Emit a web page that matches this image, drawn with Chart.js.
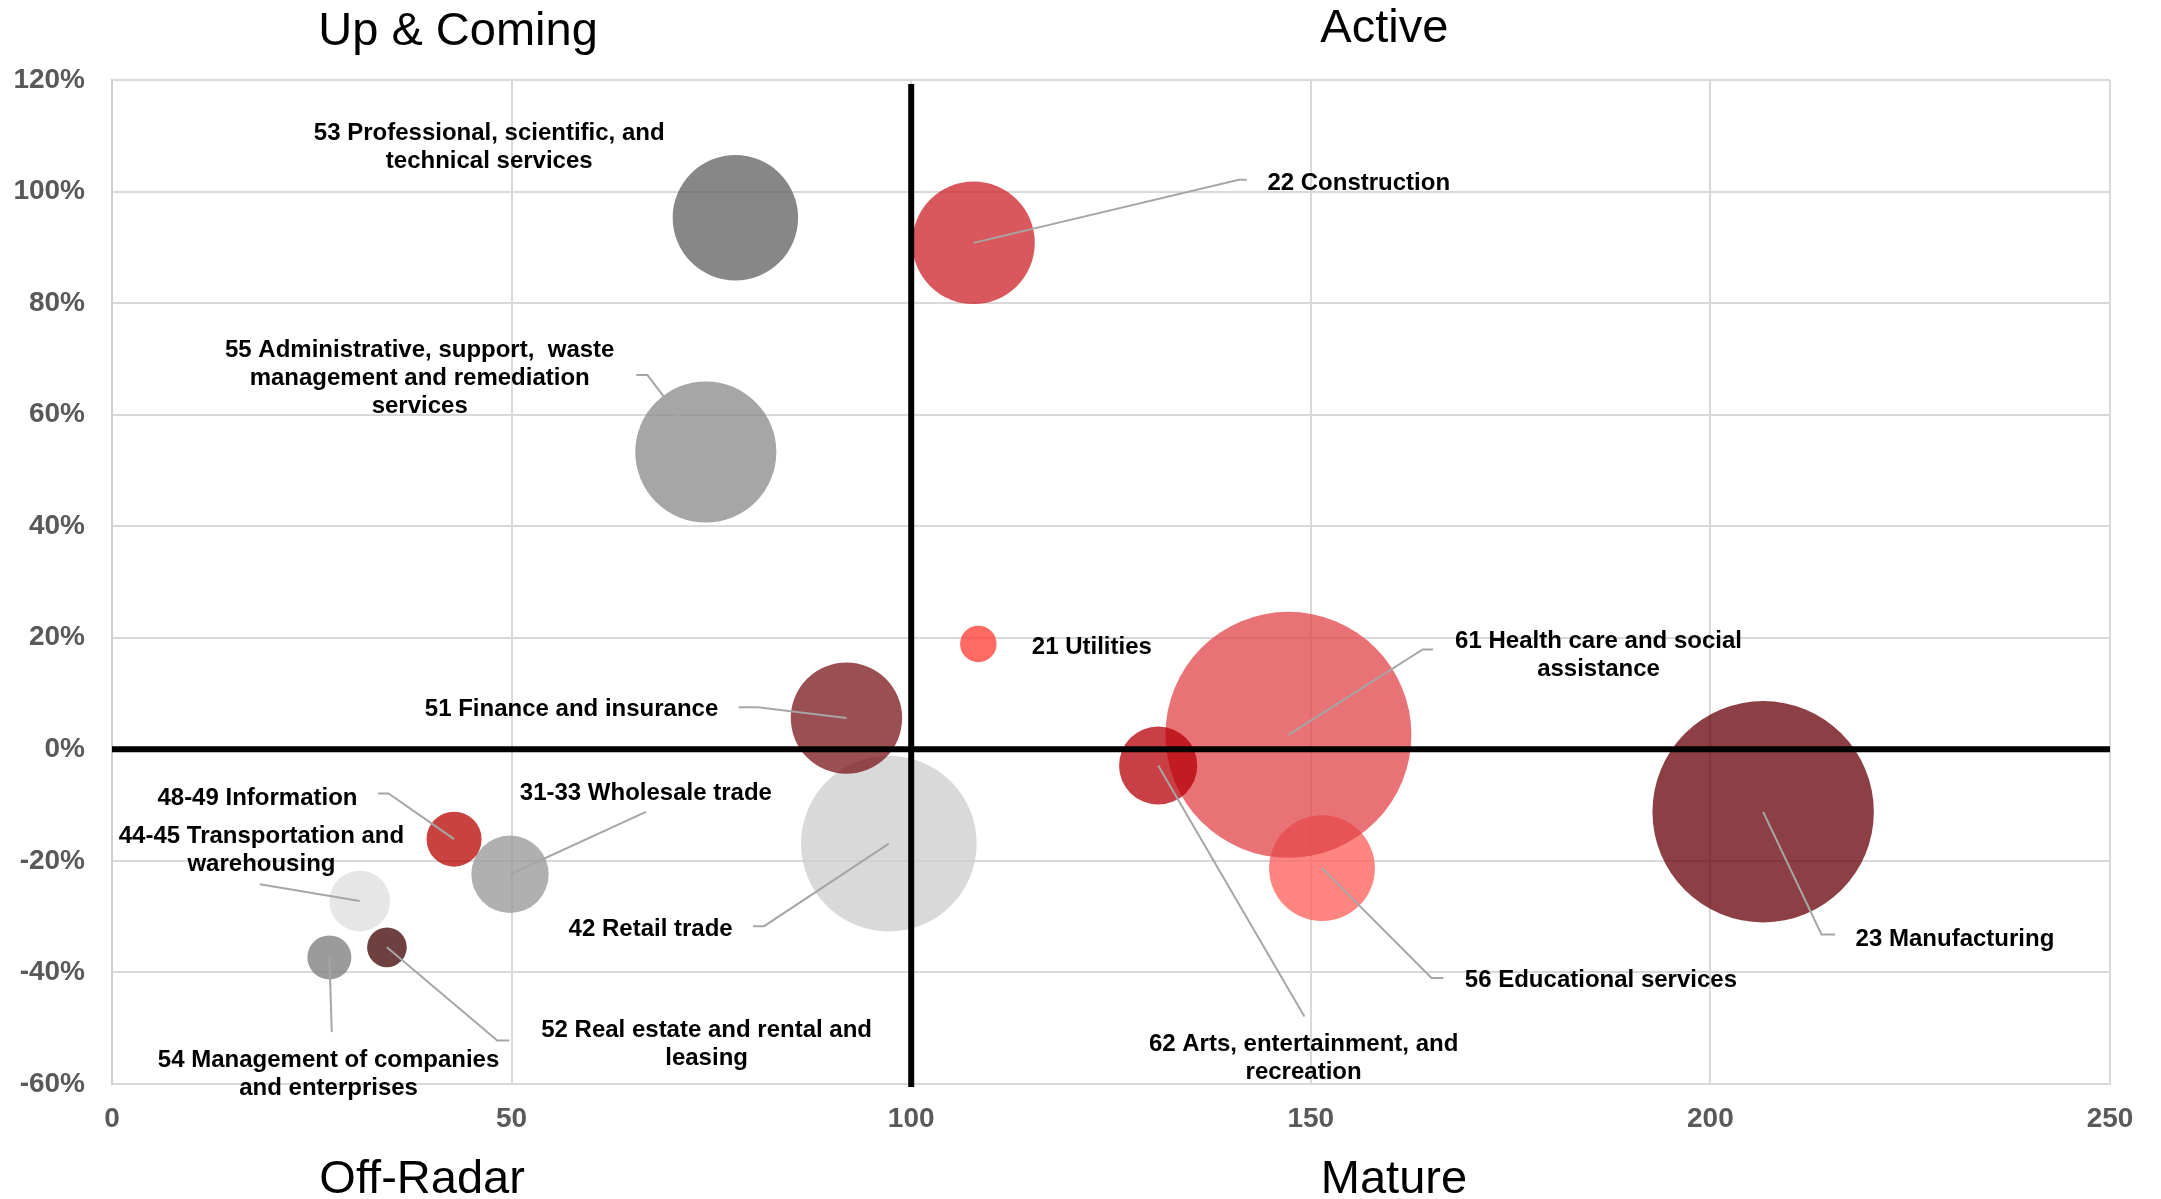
<!DOCTYPE html>
<html>
<head>
<meta charset="utf-8">
<title>Industry bubble chart</title>
<script src="https://cdn.jsdelivr.net/npm/chart.js@4/dist/chart.umd.min.js"></script>
<style>
  html, body { margin: 0; padding: 0; background: #ffffff; }
  #wrap { width: 2161px; height: 1199px; }
  canvas { display: block; }
</style>
</head>
<body>
<div id="wrap"><canvas id="chart" width="2161" height="1199"></canvas></div>
<script>
// ---- data ----
const industries = [
  '21 Utilities', '22 Construction', '23 Manufacturing', '31-33 Wholesale trade',
  '42 Retail trade', '44-45 Transportation and warehousing', '48-49 Information',
  '51 Finance and insurance', '52 Real estate and rental and leasing',
  '53 Professional, scientific, and technical services',
  '54 Management of companies and enterprises',
  '55 Administrative, support,  waste management and remediation services',
  '56 Educational services', '61 Health care and social assistance',
  '62 Arts, entertainment, and recreation'
];
// label text as it is broken into lines on the chart
const labelLines = [
  ['21 Utilities'],
  ['22 Construction'],
  ['23 Manufacturing'],
  ['31-33 Wholesale trade'],
  ['42 Retail trade'],
  ['44-45 Transportation and', 'warehousing'],
  ['48-49 Information'],
  ['51 Finance and insurance'],
  ['52 Real estate and rental and', 'leasing'],
  ['53 Professional, scientific, and', 'technical services'],
  ['54 Management of companies', 'and enterprises'],
  ['55 Administrative, support,  waste', 'management and remediation', 'services'],
  ['56 Educational services'],
  ['61 Health care and social', 'assistance'],
  ['62 Arts, entertainment, and', 'recreation']
];
const maturity = [108.4, 107.8, 206.6, 49.8, 97.2, 31.0, 42.8, 91.9, 34.4, 78.0, 27.2, 74.3, 151.4, 147.2, 130.9];
const growth   = [18.9, 90.8, -11.2, -22.4, -16.9, -27.2, -16.1, 5.6, -35.5, 95.3, -37.3, 53.3, -21.3, 2.6, -2.9];
const sizes    = [2.2, 24.8, 81.0, 9.9, 51.0, 6.1, 5.0, 20.5, 2.6, 26.0, 3.2, 32.9, 18.5, 100, 10.1];
const xTicks = [0, 50, 100, 150, 200, 250];
const yTicks = [-60, -40, -20, 0, 20, 40, 60, 80, 100, 120];
const quadrantNames = ['Up & Coming', 'Active', 'Off-Radar', 'Mature'];
const crossAt = { x: 100, y: 0 };

// ---- styles ----
const fills = [
  'rgba(255,56,47,0.75)', 'rgba(204,32,39,0.75)', 'rgba(102,0,8,0.75)', 'rgba(150,150,150,0.75)',
  'rgba(204,204,204,0.75)', 'rgba(222,222,222,0.75)', 'rgba(182,4,0,0.75)', 'rgba(120,20,26,0.75)',
  'rgba(62,0,0,0.75)', 'rgba(95,95,95,0.75)', 'rgba(122,122,122,0.75)', 'rgba(136,136,136,0.75)',
  'rgba(254,92,86,0.75)', 'rgba(224,67,72,0.75)', 'rgba(182,0,7,0.75)'
];
const FONT = '"Liberation Sans", Arial, Helvetica, sans-serif';

// label placement in axis units: centre of the first text line, plus leader-line
// points that run from the label towards the bubble centre
const labelLayout = [
  { x: 122.6, y: 18.7,  leader: [] },
  { x: 156.0, y: 101.9, leader: [[142.0, 102.1], [141.0, 102.1]] },
  { x: 230.6, y: -33.7, leader: [[215.6, -33.2], [213.9, -33.2]] },
  { x: 66.8,  y: -7.5,  leader: [[66.8, -11.2]] },
  { x: 67.4,  y: -32.0, leader: [[80.2, -31.7], [81.6, -31.7]] },
  { x: 18.7,  y: -15.3, leader: [[18.5, -24.2]] },
  { x: 18.2,  y: -8.5,  leader: [[33.3, -7.9], [34.6, -7.9]] },
  { x: 57.5,  y: 7.6,   leader: [[78.4, 7.55], [80.8, 7.55]] },
  { x: 74.4,  y: -50.1, leader: [[49.7, -52.2], [48.2, -52.2]] },
  { x: 47.2,  y: 110.8, leader: [] },
  { x: 27.1,  y: -55.4, leader: [[27.5, -50.7]] },
  { x: 38.5,  y: 71.8,  leader: [[65.6, 67.1], [67.0, 67.1]] },
  { x: 186.3, y: -41.05, leader: [[166.6, -41.0], [165.1, -41.0]] },
  { x: 186.0, y: 19.75, leader: [[165.3, 17.9], [164.0, 17.9]] },
  { x: 149.1, y: -52.5, leader: [[149.2, -47.9]] }
];
const LINE_GAP = 28;
const TEXT_NUDGE = 2; // 'middle' baseline sits a touch above the cap centre
const quadrantLayout = [
  { x: 43.3,  edge: 'top',    offset: -35 },
  { x: 159.2, edge: 'top',    offset: -38 },
  { x: 38.8,  edge: 'bottom', offset: 109 },
  { x: 160.4, edge: 'bottom', offset: 109 }
];

// Excel-like bubble scaling: the largest bubble spans about a quarter of the
// plot's shorter side, and bubble area follows the size value
function bubbleRadius(area, idx) {
  const rMax = 0.1225 * Math.min(area.right - area.left, area.bottom - area.top);
  return rMax * Math.sqrt(sizes[idx] / Math.max(...sizes));
}

const points = maturity.map((mx, i) => ({ x: mx, y: growth[i], r: 1 }));

const overlay = {
  id: 'quadrantOverlay',
  afterDatasetsDraw(chart) {
    const { ctx, chartArea: a, scales: { x, y } } = chart;
    ctx.save();

    // quadrant dividers
    ctx.strokeStyle = '#000000';
    ctx.lineWidth = 6;
    const cx = x.getPixelForValue(crossAt.x);
    const cy = y.getPixelForValue(crossAt.y);
    ctx.beginPath(); ctx.moveTo(cx, a.top + 4); ctx.lineTo(cx, a.bottom + 3); ctx.stroke();
    ctx.beginPath(); ctx.moveTo(a.left, cy); ctx.lineTo(a.right, cy); ctx.stroke();

    // leader lines
    ctx.strokeStyle = '#A6A6A6';
    ctx.lineWidth = 2;
    labelLayout.forEach((L, i) => {
      if (!L.leader.length) return;
      ctx.beginPath();
      L.leader.forEach(([vx, vy], k) => {
        const px = x.getPixelForValue(vx), py = y.getPixelForValue(vy);
        if (k === 0) ctx.moveTo(px, py); else ctx.lineTo(px, py);
      });
      ctx.lineTo(x.getPixelForValue(maturity[i]), y.getPixelForValue(growth[i]));
      ctx.stroke();
    });

    // data labels
    ctx.fillStyle = '#000000';
    ctx.font = 'bold 24px ' + FONT;
    ctx.textAlign = 'center';
    ctx.textBaseline = 'middle';
    labelLayout.forEach((L, i) => {
      const px = x.getPixelForValue(L.x);
      const py = y.getPixelForValue(L.y) + TEXT_NUDGE;
      labelLines[i].forEach((line, k) => ctx.fillText(line, px, py + k * LINE_GAP));
    });

    // quadrant names
    ctx.font = '47px ' + FONT;
    ctx.textBaseline = 'alphabetic';
    quadrantLayout.forEach((q, i) => {
      const base = q.edge === 'top' ? a.top : a.bottom;
      ctx.fillText(quadrantNames[i], x.getPixelForValue(q.x), base + q.offset);
    });
    ctx.restore();
  }
};

const tickFont = { family: FONT, size: 28, weight: 'bold' };

const chart = new Chart(document.getElementById('chart').getContext('2d'), {
  type: 'bubble',
  data: {
    datasets: [{
      label: 'Industries',
      data: points,
      backgroundColor: fills,
      borderWidth: 0,
      clip: false
    }]
  },
  options: {
    responsive: false,
    animation: false,
    devicePixelRatio: 1,
    events: [],
    layout: { padding: { top: 80, right: 51, bottom: 0, left: 0 }, autoPadding: false },
    plugins: { legend: { display: false }, tooltip: { enabled: false } },
    scales: {
      x: {
        type: 'linear',
        min: xTicks[0],
        max: xTicks[xTicks.length - 1],
        afterBuildTicks: (s) => { s.ticks = xTicks.map(v => ({ value: v })); },
        afterFit: (s) => { s.height = 115; },
        grid: { color: '#D9D9D9', lineWidth: 2, drawTicks: false },
        border: { display: true, color: '#D9D9D9', width: 2 },
        ticks: { font: tickFont, color: '#595959', padding: 18, maxRotation: 0, autoSkip: false }
      },
      y: {
        type: 'linear',
        min: yTicks[0],
        max: yTicks[yTicks.length - 1],
        afterBuildTicks: (s) => { s.ticks = yTicks.map(v => ({ value: v })); },
        afterFit: (s) => { s.width = 112; },
        grid: { color: '#D9D9D9', lineWidth: 2, drawTicks: false },
        border: { display: true, color: '#CFCFCF', width: 2 },
        ticks: { font: tickFont, color: '#595959', padding: 27, callback: (v) => v + '%' }
      }
    }
  },
  plugins: [overlay]
});

// once the plot area is known, size every bubble from its value
points.forEach((p, i) => { p.r = bubbleRadius(chart.chartArea, i); });
chart.update();
</script>
</body>
</html>
